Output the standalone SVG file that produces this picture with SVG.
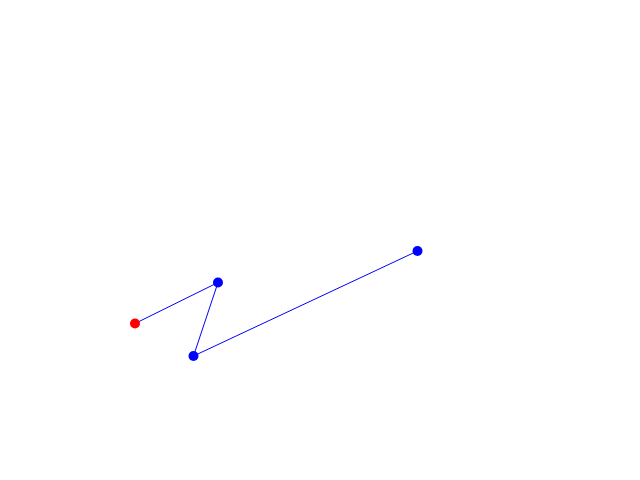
<svg xmlns="http://www.w3.org/2000/svg" width="640" height="480" viewBox="0 0 640 480">
<style>
.edge{stroke:#0000ff;stroke-width:1;fill:none}
.pt{fill:#0000ff}
.start{fill:#ff0000}
</style>
<rect width="640" height="480" fill="#ffffff"/>
<g id="connectors">
<polyline class="edge" points="135,323.5 218,282.5 193.5,356 417.5,251"/>
</g>
<g id="n0"><circle class="start" cx="135" cy="323.5" r="5"/></g>
<g id="n1"><circle class="pt" cx="218" cy="282.5" r="5"/></g>
<g id="n2"><circle class="pt" cx="193.5" cy="356" r="5"/></g>
<g id="n3"><circle class="pt" cx="417.5" cy="251" r="5"/></g>
</svg>
